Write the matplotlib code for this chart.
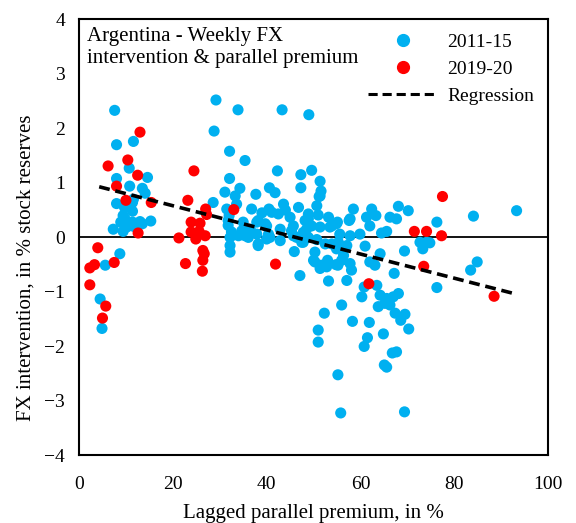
import matplotlib
matplotlib.use("Agg")
import matplotlib.pyplot as plt
import numpy as np
from matplotlib.lines import Line2D

plt.rcParams['font.family'] = ['Liberation Serif', 'DejaVu Serif']

# 2011-15 (blue) points: lagged parallel premium (%), FX intervention (% of reserves)
blue_x = [7.6, 8.0, 11.6, 10.7, 8.0, 14.6, 10.8, 13.5, 14.1, 8.0, 11.4, 9.7, 11.4, 9.4, 8.9,
          11.4, 15.3, 13.5, 7.3, 9.4, 11.7, 10.2, 10.4, 11.6, 9.8, 13.0, 8.7, 5.6, 4.5, 4.9,
          29.2, 33.9, 43.3, 49.0, 28.8, 32.1, 35.4, 42.3, 47.3, 49.6, 51.4, 47.3, 51.6, 51.2,
          32.1, 34.3, 31.1, 33.3, 40.6, 41.8, 37.7, 28.6, 43.6, 36.8, 31.5, 40.5, 46.8, 42.5,
          45.0, 48.9, 51.0, 53.2, 31.8, 34.7, 37.9, 40.0, 42.9, 45.7, 48.5, 51.4, 53.9, 32.2,
          35.4, 38.2, 40.7, 42.9, 47.5, 50.3, 45.9, 32.2, 33.6, 41.1, 50.7, 31.8, 35.0, 38.2,
          39.7, 45.3, 48.2, 49.6, 32.2, 34.0, 36.1, 40.4, 46.4, 47.8, 50.3, 51.4, 47.1, 32.0,
          32.5, 36.5, 44.0, 39.0, 37.9, 40.0, 45.7, 47.8, 48.9, 50.7, 52.5, 38.2,
          51.4, 58.5, 62.4, 63.3, 68.1, 70.2, 66.3, 67.7, 57.6, 61.3, 62.0, 76.3, 84.1, 93.3,
          65.6, 64.5, 57.8, 59.9, 72.7, 74.1, 74.8, 73.3, 69.4, 61.0, 64.2, 57.1, 53.9, 55.3,
          50.0, 51.7, 53.0, 54.8, 58.1, 62.0, 63.1, 67.2, 83.5, 84.9, 48.9, 54.9, 57.8, 55.1,
          53.5, 55.6, 56.4, 54.9, 56.0, 57.8, 53.2, 57.1, 52.8, 55.2,
          60.8, 63.5, 60.3, 64.2, 65.6, 67.0, 68.1, 63.8, 65.2, 66.3, 56.0, 52.3, 58.3, 61.9,
          67.4, 69.5, 68.6, 70.3, 51.0, 51.0, 61.5, 60.8, 64.9, 66.8, 67.7, 65.1, 65.6, 55.2,
          55.8, 69.4, 76.3]
blue_y = [2.33, 1.70, 1.76, 1.27, 1.08, 1.10, 0.94, 0.90, 0.81, 0.62, 0.64, 0.55, 0.48, 0.40, 0.28,
          0.28, 0.30, 0.25, 0.15, 0.11, 0.20, 0.19, 0.60, 0.70, 0.34, 0.29, -0.30, -0.51, -1.13, -1.67,
          2.52, 2.34, 2.34, 2.25, 1.95, 1.58, 1.41, 1.22, 1.15, 1.23, 1.03, 0.91, 0.85, 0.75,
          1.08, 0.90, 0.83, 0.76, 0.91, 0.82, 0.79, 0.64, 0.61, 0.52, 0.52, 0.52, 0.55, 0.43,
          0.37, 0.43, 0.41, 0.37, 0.22, 0.12, 0.28, 0.21, 0.15, 0.21, 0.15, 0.19, 0.21, 0.00,
          0.03, -0.12, 0.00, -0.06, -0.09, -0.27, -0.26, -0.27, 0.61, 0.46, 0.58, 0.31, 0.28, 0.31,
          0.25, 0.12, 0.31, 0.21, -0.15, 0.03, 0.00, 0.06, 0.00, -0.09, -0.45, -0.57, -0.70, 0.40,
          0.10, 0.15, 0.50, 0.45, 0.06, -0.03, 0.03, 0.09, 0.00, -0.04, -0.12, -0.15,
          0.76, 0.52, 0.52, 0.40, 0.57, 0.49, 0.37, 0.34, 0.31, 0.37, 0.21, 0.28, 0.39, 0.49,
          0.11, 0.08, 0.03, 0.06, -0.09, -0.09, -0.10, -0.21, -0.25, -0.16, -0.30, -0.15, -0.12, -0.09,
          -0.42, -0.51, -0.42, -0.50, -0.60, -0.45, -0.51, -0.66, -0.60, -0.45, 0.34, 0.25, 0.34, 0.28,
          0.19, 0.06, -0.33, -0.21, -0.42, -0.48, -0.80, -0.79, -0.54, -0.51,
          -0.91, -0.88, -1.09, -1.06, -1.12, -1.09, -1.03, -1.27, -1.21, -1.24, -1.24, -1.39, -1.54, -1.56,
          -1.39, -1.41, -1.52, -1.68, -1.70, -1.92, -1.84, -2.00, -1.77, -2.12, -2.10, -2.34, -2.38, -2.52,
          -3.22, -3.20, -0.92]

# 2019-20 (red) points
red_x = [13.0, 6.2, 10.4, 12.5, 8.0, 10.0, 15.4, 12.6, 4.0, 24.5, 23.2, 27.0, 27.2, 23.9,
         25.8, 21.3, 23.9, 25.6, 26.9, 24.9, 26.4, 33.0, 2.3, 3.3, 7.5, 2.3, 5.7, 5.0,
         22.7, 26.7, 26.4, 26.3, 41.9, 77.5, 71.5, 74.1, 77.3, 73.5, 61.8, 88.5]
red_y = [1.93, 1.31, 1.42, 1.14, 0.94, 0.68, 0.64, 0.08, -0.19, 1.22, 0.68, 0.52, 0.42, 0.28,
         0.26, -0.01, 0.10, 0.11, 0.03, -0.03, -0.24, 0.51, -0.56, -0.50, -0.46, -0.87, -1.26, -1.48,
         -0.48, -0.30, -0.42, -0.62, -0.49, 0.75, 0.11, 0.11, 0.03, -0.53, -0.85, -1.08]

# regression line
reg_slope = -0.02215
reg_intercept = 1.024
reg_x = [4.3, 92.3]

blue = '#00B0F0'
red = '#FF0000'

fig = plt.figure(figsize=(5.76, 5.23), dpi=100)
ax = fig.add_axes([0.1372, 0.1291, 0.8142, 0.834])

ax.axhline(0, color='black', lw=1.3, zorder=1)
ax.scatter(blue_x, blue_y, s=64, color=blue, edgecolors='none', zorder=2)
ax.scatter(red_x, red_y, s=64, color=red, edgecolors='none', zorder=3)
rx = np.array(reg_x)
ax.plot(rx, reg_intercept + reg_slope * rx, color='black', lw=2.6,
        linestyle=(0, (3, 1.6)), zorder=4)

ax.set_xlim(0, 100)
ax.set_ylim(-4, 4)
ax.set_xticks(range(0, 101, 20))
ax.set_yticks(range(-4, 5))
ax.tick_params(length=0, labelsize=14)
ax.tick_params(axis='x', pad=15)
ax.tick_params(axis='y', pad=10)
for s in ax.spines.values():
    s.set_linewidth(1.5)

ax.set_xlabel('Lagged parallel premium, in %', fontsize=15, labelpad=8)
ax.set_ylabel('FX intervention, in % stock reserves', fontsize=15)
ax.yaxis.set_label_coords(-0.092, 0.43)

ax.text(0.018, 0.982, 'Argentina - Weekly FX\nintervention & parallel premium',
        transform=ax.transAxes, ha='left', va='top', fontsize=15, linespacing=1.2)

handles = [
    Line2D([], [], marker='o', color=blue, linestyle='none', markersize=8.5),
    Line2D([], [], marker='o', color=red, linestyle='none', markersize=8.5),
    Line2D([], [], color='black', lw=2.2, linestyle=(0, (3, 1.6))),
]
ax.legend(handles, ['2011-15', '2019-20', 'Regression'], loc='upper right',
          bbox_to_anchor=(1.0, 1.0), frameon=False, fontsize=14,
          handlelength=3.6, handletextpad=0.5, labelspacing=0.5, borderaxespad=0.3)

fig.savefig('out.png', dpi=100)
